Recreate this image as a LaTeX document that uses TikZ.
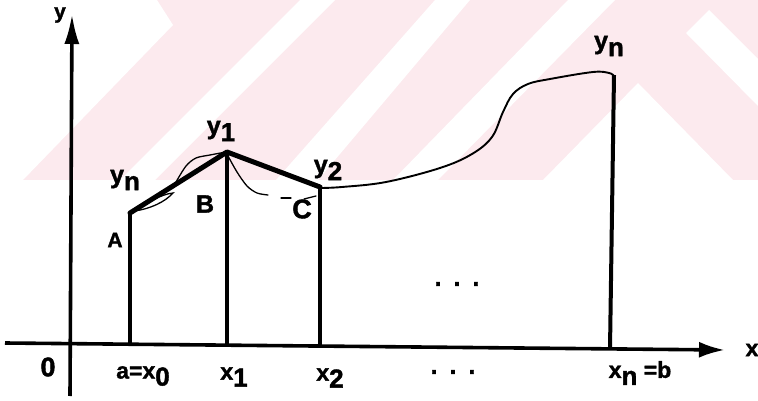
\documentclass[tikz,border=0pt]{standalone}
\usepackage{fontspec}
\setmainfont{Liberation Sans}[BoldFeatures={FakeBold=1.5}]
\usetikzlibrary{arrows.meta}
\definecolor{wmpink}{RGB}{252,234,238}
\newcommand{\mysub}[1]{\raisebox{-7pt}{\fontsize{26}{26}\selectfont #1}}
\tikzset{
  axisline/.style={line width=3.6pt},
  barline/.style={line width=4pt},
  chordline/.style={line width=5pt, line cap=round, line join=round},
  fline/.style={line width=1.9pt, line join=round},
  thinline/.style={line width=1.3pt, line cap=round},
  lab/.style={font=\fontsize{25}{25}\selectfont\bfseries, inner sep=0pt},
  xlab/.style={font=\fontsize{23}{23}\selectfont\bfseries, inner sep=0pt},
  smalllab/.style={font=\fontsize{21}{21}\selectfont\bfseries, inner sep=0pt},
  biglab/.style={font=\fontsize{27}{27}\selectfont\bfseries, inner sep=0pt}
}
\begin{document}
\begin{tikzpicture}[x=1pt,y=-1pt]
\useasboundingbox (0,0) rectangle (758,401);
\fill[white] (0,0) rectangle (758,401);
% watermark
\begin{scope}
\clip (0,0) rectangle (758,180);
\fill[wmpink] (0,0) rectangle (758,180);
\fill[white] (0,0) -- (157,0) -- (173,25) -- (23,180) -- (0,180) -- cycle;
\fill[white] (300,0) -- (335,0) -- (155,180) -- (120,180) -- cycle;
\fill[white] (435,0) -- (470,0) -- (318,180) -- (276,180) -- cycle;
\fill[white] (568,0) -- (615,0) -- (438,180) -- (393,180) -- cycle;
\fill[white] (638,83) -- (733,180) -- (543,180) -- cycle;
\fill[white] (686,33) -- (709,10) -- (758,59) -- (758,106) -- cycle;
\end{scope}
% axes
\coordinate (yb) at (70,396);
\coordinate (yt) at (72,14);
\coordinate (xl) at (5,343);
\coordinate (xr) at (725,350);
\draw[axisline,-{Latex[length=30pt,width=15pt]}] (yb) -- (yt);
\draw[axisline,-{Latex[length=26pt,width=16pt]}] (xl) -- (xr);
% points
\coordinate (A) at (130,213);
\coordinate (P1) at (227,152);
\coordinate (P2) at (320,187);
\coordinate (Pn) at (614,75);
\coordinate (F0) at (130,344);
\coordinate (F1) at (227,345);
\coordinate (F2) at (320,346);
\coordinate (Fn) at (610,349);
% ordinates
\draw[barline] (F0) -- (A);
\draw[barline] (F1) -- (P1);
\draw[barline] (F2) -- (P2);
\draw[barline] (Fn) -- (Pn);
% chords
\draw[chordline] (A) -- (P1) -- (P2);
% function curve
\draw[fline] plot[smooth, tension=0.6] coordinates {(320,188) (342,187) (386,182) (440,168) (472,154) (492,137) (503,112) (513,94) (528,84) (550,79) (593,72) (609,73) (614,76)};
\draw[thinline] (134,211) .. controls (150,209) and (165,202) .. (173,193) .. controls (162,194) and (146,203) .. (134,211);
\draw[thinline] plot[smooth] coordinates {(176,182) (186,166) (196,158) (210,155) (226,152)};
\draw[thinline] plot[smooth] coordinates {(228,156) (237,172) (247,186) (257,193) (268,195)};
\coordinate (d1a) at (281,198); \coordinate (d1b) at (291,198);
\draw[thinline] (d1a) -- (d1b);
\coordinate (d2a) at (304,199); \coordinate (d2b) at (316,196);
\draw[thinline] (d2a) -- (d2b);
% labels
\node[smalllab] (ly) at (60,15) {y};
\node[lab] (lyn1) at (125,180) {y\mysub{n}};
\node[lab] (ly1) at (221,131) {y\mysub{1}};
\node[lab] (ly2) at (328,170) {y\mysub{2}};
\node[lab] (lyn2) at (609,46) {y\mysub{n}};
\node[smalllab] (lA) at (115,240) {A};
\node[lab] (lB) at (205,204) {B};
\node[biglab] (lC) at (302,209) {C};
\node[biglab] (l0) at (48,367) {0};
\node[xlab] (la) at (143,376) {a=x\mysub{0}};
\node[xlab] (lx1) at (234,377) {x\mysub{1}};
\node[xlab] (lx2) at (330,378) {x\mysub{2}};
\node[xlab] (lxn) at (640,373) {x\mysub{n} =b};
\node[xlab] (lx) at (752,350) {x};
\node[lab] (dots1) at (457,284) {.\hspace{12pt}.\hspace{12pt}.};
\node[lab] (dots2) at (453,372) {.\hspace{12pt}.\hspace{12pt}.};
\end{tikzpicture}
\end{document}
